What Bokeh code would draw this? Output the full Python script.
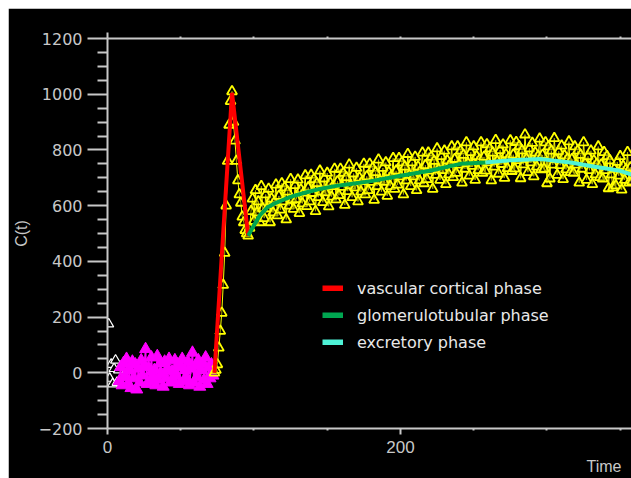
from bokeh.plotting import figure
from bokeh.models import Range1d, LinearAxis, FixedTicker, Legend, LegendItem, Title
from bokeh.embed import file_html
from bokeh.resources import INLINE

# ---------------- data ----------------
white_t = [0.8, 1.5, 2.5, 3.5, 4.5, 5.5, 6.5, 7.5]
white_c = [175, -20, 30, -40, 15, 45, -35, 10]

magenta_c = [-30, 20, -45, 35, -15, 50, -40, 10, -55, 40,
             -20, 30, -60, 15, -35, 45, -10, 25, 85, -40,
             20, -30, 55, -15, 10, -45, 60, -25, 35, -5,
             -50, 40, -20, 15, 50, -35, 5, -25, 45, -10,
             30, -40, 20, 50, -30, 10, -20, 40, -45, 15,
             72, -35, 25, -15, 45, -50, 10, 35, -25, 55,
             -40, 20, -20, 30, -10]
magenta_t = list(range(8, 8 + len(magenta_c)))

yellow_c = [0, 10, 30, 90, 150, 215, 315, 430, 600, 760, 890, 975, 1010,
            900, 833, 760, 690, 640, 610, 560, 540, 512, 500, 492,
            520, 580, 625, 545, 655, 575, 615, 540, 670, 590,
            555, 640, 590, 660, 540, 625, 575, 613, 675, 565,
            635, 585, 680, 615, 665, 550, 650, 600, 695, 620,
            588, 673, 623, 693, 573, 658, 608, 646, 708, 598,
            665, 615, 710, 645, 695, 580, 680, 630, 725, 650,
            612, 697, 647, 717, 597, 682, 632, 670, 732, 622,
            687, 637, 732, 667, 717, 602, 702, 652, 747, 672,
            630, 715, 665, 735, 615, 700, 650, 688, 750, 640,
            705, 655, 750, 685, 735, 620, 720, 670, 765, 690,
            650, 735, 685, 755, 635, 720, 670, 708, 770, 660,
            725, 675, 770, 705, 755, 640, 740, 690, 785, 710,
            670, 755, 705, 775, 655, 740, 690, 728, 790, 680,
            745, 695, 790, 725, 775, 660, 760, 710, 805, 730,
            692, 777, 727, 797, 677, 762, 712, 750, 812, 702,
            767, 717, 812, 747, 797, 682, 782, 732, 827, 752,
            707, 792, 742, 812, 692, 777, 727, 765, 827, 717,
            775, 725, 820, 755, 805, 690, 790, 740, 835, 760,
            714, 799, 749, 819, 699, 784, 734, 772, 834, 724,
            783, 733, 828, 763, 813, 698, 798, 748, 855, 768,
            720, 805, 755, 825, 705, 790, 740, 778, 840, 730,
            782, 732, 827, 680, 812, 697, 797, 747, 842, 767,
            710, 795, 745, 815, 695, 780, 730, 768, 830, 720,
            767, 717, 812, 747, 797, 682, 782, 732, 827, 752,
            692, 777, 727, 797, 677, 762, 712, 750, 812, 702,
            747, 697, 792, 727, 777, 662, 762, 712, 665, 732,
            672, 757, 707, 777, 657, 742, 692, 730, 792, 682,
            737, 687]
yellow_t = list(range(73, 73 + len(yellow_c)))

red_t = [73, 85, 96]
red_c = [0, 1005, 492]
green_t = [96, 100, 104, 109, 115, 121, 127, 136, 145, 155, 166, 180, 200, 220, 241, 258]
green_c = [492, 530, 565, 593, 610, 623, 635, 648, 660, 670, 678, 688, 707, 725, 750, 755]
cyan_t = [258, 275, 296, 316, 336, 350, 358]
cyan_c = [755, 763, 767, 755, 737, 725, 711]

phase_labels = ["vascular cortical phase", "glomerulotubular phase", "excretory phase"]
phase_colors = ["#ff0000", "#00a651", "#4ef2d6"]

y_major = [-200, 0, 200, 400, 600, 800, 1000, 1200]
y_minor = [v for v in range(-200, 1201, 50) if v % 200 != 0]
x_major = [0, 200, 400]
x_minor = [50, 100, 150, 250, 300, 350]

# ---------------- figure ----------------
AX = "#c8c8c8"
p = figure(width=623, height=470, x_range=Range1d(0, 357.7), y_range=Range1d(-200, 1200),
           output_backend="svg", toolbar_location=None, margin=(8, 0, 0, 8),
           background_fill_color="black", border_fill_color="black", outline_line_color=None,
           min_border_left=99, min_border_right=0, min_border_top=30, min_border_bottom=50)
p.grid.visible = False

ya = p.yaxis[0]
ya.ticker = FixedTicker(ticks=y_major, minor_ticks=y_minor)
ya.axis_line_color = AX
ya.axis_line_width = 2
ya.major_tick_line_color = AX
ya.major_tick_line_width = 2
ya.minor_tick_line_color = AX
ya.minor_tick_line_width = 2
ya.major_tick_out = 20
ya.major_tick_in = 0
ya.minor_tick_out = 10
ya.minor_tick_in = 0
ya.major_label_standoff = 5
ya.major_label_text_font = "DejaVu Sans"
ya.major_label_text_font_size = "16px"
ya.major_label_text_color = AX
ya.axis_label = "C(t)"
ya.axis_label_text_font = "Liberation Sans"
ya.axis_label_text_font_size = "16px"
ya.axis_label_text_font_style = "normal"
ya.axis_label_text_color = AX
ya.axis_label_standoff = 6

xa = p.xaxis[0]
xa.ticker = FixedTicker(ticks=x_major, minor_ticks=x_minor)
xa.axis_line_color = AX
xa.axis_line_width = 2
xa.major_tick_line_color = AX
xa.major_tick_line_width = 2
xa.minor_tick_line_color = AX
xa.minor_tick_line_width = 2
xa.major_tick_out = 6
xa.major_tick_in = 0
xa.minor_tick_out = 2
xa.minor_tick_in = 0
xa.major_label_standoff = 6
xa.major_label_text_font = "Liberation Sans"
xa.major_label_text_font_size = "17px"
xa.major_label_text_color = AX

top = LinearAxis(ticker=FixedTicker(ticks=[0], minor_ticks=x_minor + [200]))
top.axis_line_color = AX
top.axis_line_width = 2
top.major_tick_line_color = AX
top.major_tick_line_width = 2
top.minor_tick_line_color = AX
top.minor_tick_line_width = 2
top.major_tick_out = 6
top.major_tick_in = 0
top.minor_tick_out = 2
top.minor_tick_in = 0
top.major_label_text_font_size = "1px"
top.major_label_text_alpha = 0
top.major_label_standoff = 0
p.add_layout(top, "above")

p.add_layout(Title(text="Time", align="right", offset=10, standoff=0,
                   text_font="Liberation Sans", text_font_size="16px",
                   text_font_style="normal", text_color=AX), "below")

# ---------------- data glyphs ----------------
p.scatter(white_t, white_c, marker="triangle", size=10, line_color="white", fill_color="black", line_width=1.2)
p.line(magenta_t, magenta_c, line_color="#ff00ff", line_width=1.5)
p.scatter(magenta_t, magenta_c, marker="triangle", size=12, line_color="#ff00ff", fill_color="#ff00ff")
p.line(yellow_t, yellow_c, line_color="#ffff00", line_width=1)
p.scatter(yellow_t, yellow_c, marker="triangle", size=10, line_color="#ffff00", fill_color="black",
          fill_alpha=0.35, line_width=1.8)

p.line(red_t, red_c, line_color=phase_colors[0], line_width=4)
p.line(green_t, green_c, line_color=phase_colors[1], line_width=4)
p.line(cyan_t, cyan_c, line_color=phase_colors[2], line_width=4)

# legend swatches (invisible single-point renderers with a thicker line)
items = []
for lab, col in zip(phase_labels, phase_colors):
    r = p.line(x=[float("nan")], y=[float("nan")], line_color=col, line_width=6)
    items.append(LegendItem(label=lab, renderers=[r]))
legend = Legend(items=items, location=(215, 76), glyph_width=21, glyph_height=6,
                label_standoff=14, spacing=7, padding=0, margin=0,
                background_fill_alpha=0, border_line_alpha=0,
                label_text_color="#e8e8e8", label_text_font="DejaVu Sans",
                label_text_font_size="16px", label_height=20)
p.add_layout(legend)

open("out.html", "w").write(file_html(p, INLINE))
